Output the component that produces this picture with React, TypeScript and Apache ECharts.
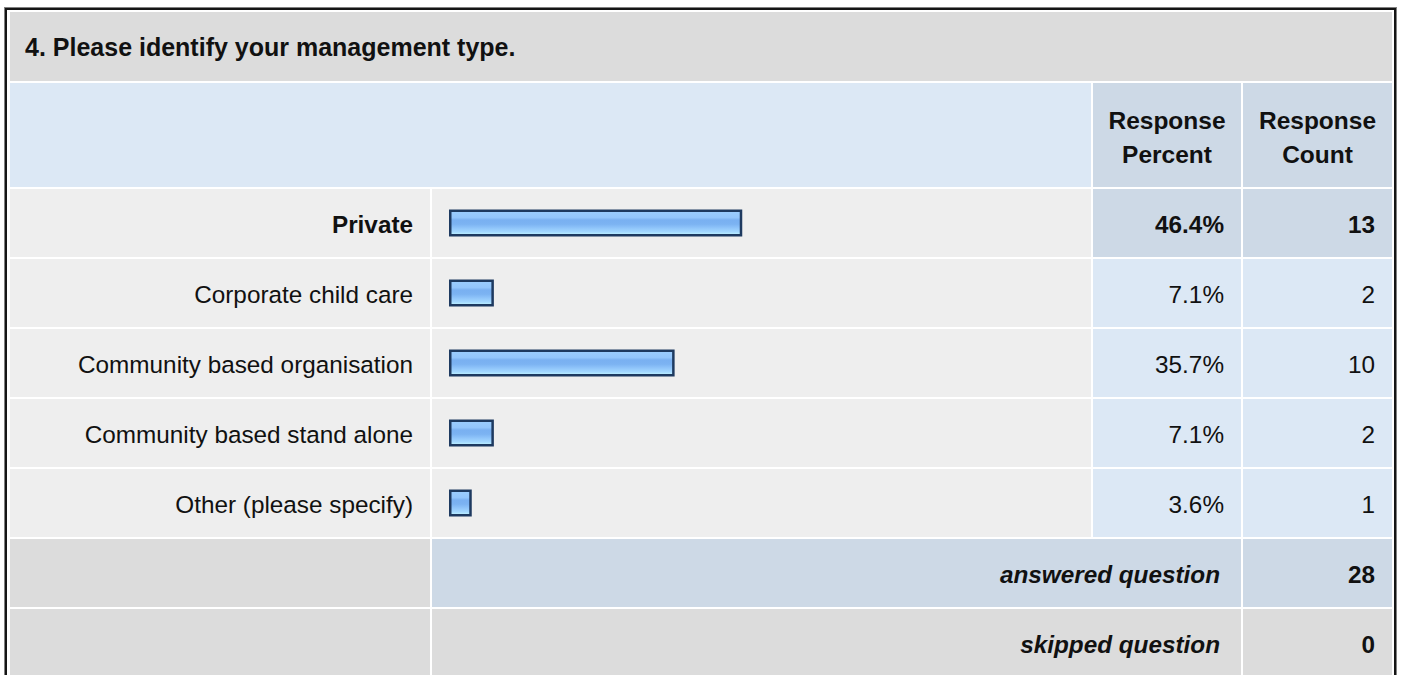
import React, { useEffect, useRef } from "react";
import * as echarts from "echarts";

// ---- data ----
const questionTitle = "4. Please identify your management type.";
const headerPercent = "Response\nPercent";
const headerCount = "Response\nCount";
const categories = [
  "Private",
  "Corporate child care",
  "Community based organisation",
  "Community based stand alone",
  "Other (please specify)",
];
const percents = [46.4, 7.1, 35.7, 7.1, 3.6];
const counts = [13, 2, 10, 2, 1];
const answeredLabel = "answered question";
const answeredCount = 28;
const skippedLabel = "skipped question";
const skippedCount = 0;

// ---- layout ----
const W = 1401;
const H = 675;
const FONT = '"Liberation Sans", Arial, Helvetica, sans-serif';
const colA = [10, 430];
const colB = [432, 1091];
const colC = [1093, 1241];
const colD = [1243, 1392];
const rowTop0 = 189;
const rowPitch = 70;
const rowH = 68;
const BODY_SIZE = 24.3;

const GRAY_DARK = "#dcdcdc";
const GRAY_LIGHT = "#eeeeee";
const BLUE_LIGHT = "#dce8f5";
const BLUE_DARK = "#cdd9e6";

function rect(x0: number, x1: number, y0: number, y1: number, fill: string, z = 0) {
  return {
    type: "rect",
    z,
    silent: true,
    shape: { x: x0, y: y0, width: x1 - x0, height: y1 - y0 },
    style: { fill },
  };
}

function text(
  str: string,
  x: number,
  y: number,
  align: string,
  opts: { size?: number; weight?: string; italic?: boolean; lineHeight?: number } = {}
) {
  return {
    type: "text",
    z: 10,
    silent: true,
    x,
    y,
    style: {
      text: str,
      fill: "#111111",
      fontFamily: FONT,
      fontSize: opts.size ?? BODY_SIZE,
      fontWeight: opts.weight ?? "normal",
      fontStyle: opts.italic ? "italic" : "normal",
      lineHeight: opts.lineHeight,
      align,
      textAlign: align,
      verticalAlign: "middle",
      textVerticalAlign: "middle",
    },
  };
}

export default function App() {
  const ref = useRef<HTMLDivElement>(null);

  useEffect(() => {
    if (!ref.current) return;
    const chart = echarts.init(ref.current, undefined, { renderer: "svg", width: W, height: H });

    const maxIdx = counts.indexOf(Math.max(...counts));
    const elements: any[] = [];

    // outer frame
    elements.push(rect(4, 1397, 7, H + 10, "#808080", -3));
    elements.push(rect(5, 1396, 8, H + 10, "#151515", -2));
    elements.push(rect(7, 1394, 10, H + 10, "#ffffff", -1));

    // title row
    elements.push(rect(colA[0], colD[1], 12, 81, GRAY_DARK));
    elements.push(text(questionTitle, 25, 47, "left", { size: 25, weight: "bold" }));

    // header row
    elements.push(rect(colA[0], colB[1], 83, 187, BLUE_LIGHT));
    elements.push(rect(colC[0], colC[1], 83, 187, BLUE_DARK));
    elements.push(rect(colD[0], colD[1], 83, 187, BLUE_DARK));
    elements.push(
      text(headerPercent, (colC[0] + colC[1]) / 2, 137, "center", { weight: "bold", lineHeight: 34, size: 24.5 })
    );
    elements.push(
      text(headerCount, (colD[0] + colD[1]) / 2, 137, "center", { weight: "bold", lineHeight: 34, size: 24.5 })
    );

    // data rows
    categories.forEach((cat, i) => {
      const y0 = rowTop0 + i * rowPitch;
      const y1 = y0 + rowH;
      const cy = (y0 + y1) / 2 + 1;
      const hi = i === maxIdx;
      const w = hi ? "bold" : "normal";
      elements.push(rect(colA[0], colA[1], y0, y1, GRAY_LIGHT));
      elements.push(rect(colB[0], colB[1], y0, y1, GRAY_LIGHT));
      elements.push(rect(colC[0], colC[1], y0, y1, hi ? BLUE_DARK : BLUE_LIGHT));
      elements.push(rect(colD[0], colD[1], y0, y1, hi ? BLUE_DARK : BLUE_LIGHT));
      elements.push(text(cat, 413, cy, "right", { weight: w }));
      elements.push(text(percents[i].toFixed(1) + "%", 1224, cy, "right", { weight: w }));
      elements.push(text(String(counts[i]), 1375, cy, "right", { weight: w }));
    });

    // answered row
    const aY0 = rowTop0 + categories.length * rowPitch;
    const aY1 = aY0 + rowH;
    elements.push(rect(colA[0], colA[1], aY0, aY1, GRAY_DARK));
    elements.push(rect(colB[0], colC[1], aY0, aY1, BLUE_DARK));
    elements.push(rect(colD[0], colD[1], aY0, aY1, BLUE_DARK));
    elements.push(text(answeredLabel, 1220, (aY0 + aY1) / 2 + 1, "right", { weight: "bold", italic: true }));
    elements.push(text(String(answeredCount), 1375, (aY0 + aY1) / 2 + 1, "right", { weight: "bold" }));

    // skipped row
    const sY0 = aY0 + rowPitch;
    const sY1 = sY0 + rowH;
    elements.push(rect(colA[0], colA[1], sY0, sY1, GRAY_DARK));
    elements.push(rect(colB[0], colC[1], sY0, sY1, GRAY_DARK));
    elements.push(rect(colD[0], colD[1], sY0, sY1, GRAY_DARK));
    elements.push(text(skippedLabel, 1220, (sY0 + sY1) / 2 + 1, "right", { weight: "bold", italic: true }));
    elements.push(text(String(skippedCount), 1375, (sY0 + sY1) / 2 + 1, "right", { weight: "bold" }));

    const barGradient = new echarts.graphic.LinearGradient(0, 0, 0, 1, [
      { offset: 0, color: "#9ccefe" },
      { offset: 0.28, color: "#93c6fc" },
      { offset: 0.38, color: "#79b0f1" },
      { offset: 0.55, color: "#7cb3f2" },
      { offset: 0.7, color: "#8fc4fa" },
      { offset: 0.86, color: "#a3d8ff" },
      { offset: 1, color: "#c4f7ff" },
    ]);

    chart.setOption({
      animation: false,
      backgroundColor: "#ffffff",
      graphic: { elements },
      grid: {
        left: 449,
        top: rowTop0 - 1,
        width: 632,
        height: rowPitch * categories.length,
        containLabel: false,
      },
      xAxis: {
        type: "value",
        min: 0,
        max: 100,
        show: false,
      },
      yAxis: {
        type: "category",
        data: categories,
        inverse: true,
        show: false,
      },
      series: [
        {
          type: "bar",
          data: percents,
          barWidth: 27,
          z: 5,
          itemStyle: {
            color: barGradient,
            borderColor: "#1e3a60",
            borderWidth: 2.5,
          },
          silent: true,
        },
      ],
    });

    return () => chart.dispose();
  }, []);

  return (
    <div
      ref={ref}
      style={{ position: "fixed", left: 0, top: 0, width: W, height: H, background: "#fff" }}
    />
  );
}
